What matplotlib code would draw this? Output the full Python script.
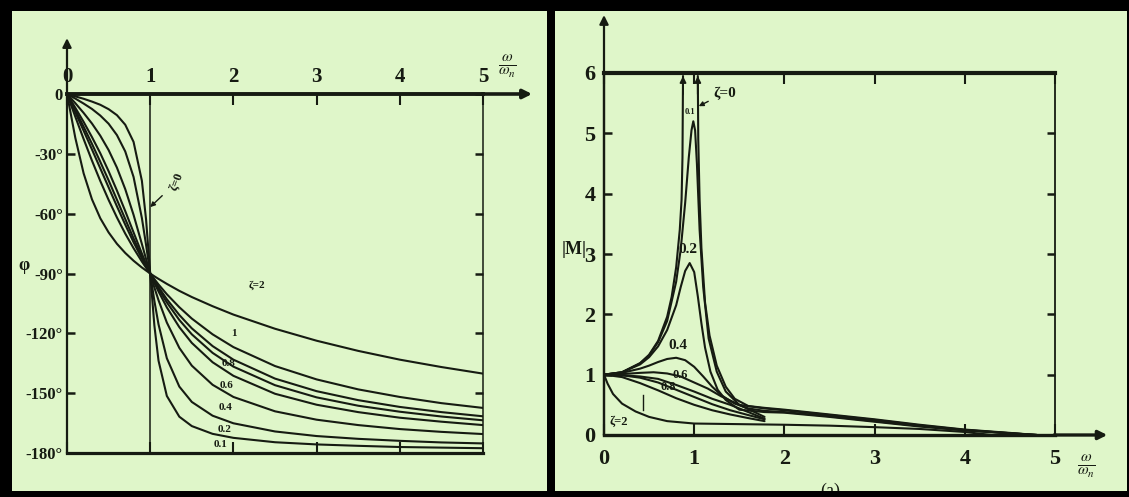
import matplotlib
matplotlib.use('Agg')
import matplotlib.pyplot as plt

plt.rcParams['mathtext.fontset'] = 'stix'

W, H = 1129, 497
INK = '#161b12'
BG = '#dff6c9'
FONT = ['Liberation Serif', 'DejaVu Serif']

# ---------------- left panel: phase (degrees) vs omega/omega_n ----------------
phase_u = [0, 0.1, 0.2, 0.3, 0.4, 0.5, 0.6, 0.7, 0.8, 0.9, 0.95, 1.0, 1.05, 1.1,
           1.2, 1.35, 1.5, 1.75, 2.0, 2.5, 3.0, 3.5, 4.0, 4.5, 5.0]
phase_z01 = [0, -1.2, -2.4, -3.8, -5.4, -7.6, -10.6, -15.4, -24.0, -43.5, -62.8, -90, -116.0,
             -133.7, -151.4, -161.8, -166.5, -170.4, -172.4, -174.6, -175.7, -176.4, -177.0, -177.3, -177.6]
phase_z02 = [0, -2.3, -4.8, -7.5, -10.8, -14.9, -20.6, -28.8, -41.6, -62.2, -75.6, -90, -103.7,
             -115.5, -132.5, -146.7, -154.4, -161.3, -165.1, -169.2, -171.5, -172.9, -173.9, -174.7, -175.2]
phase_z04 = [0, -4.6, -9.5, -14.8, -20.9, -28.1, -36.9, -47.7, -60.6, -75.2, -82.7, -90, -97.0,
             -103.4, -114.6, -127.3, -136.2, -145.8, -151.9, -159.1, -163.3, -166.0, -168.0, -169.4, -170.5]
phase_z06 = [0, -6.9, -14.0, -21.6, -29.7, -38.7, -48.4, -58.7, -69.4, -80.0, -85.1, -90, -94.7,
             -99.0, -107.0, -116.9, -124.8, -134.5, -141.3, -150.3, -155.8, -159.5, -162.3, -164.3, -166.0]
phase_z07 = [0, -8.1, -16.4, -25.0, -34.0, -43.3, -53.0, -62.7, -72.4, -81.5, -85.9, -90, -94.0,
             -97.7, -104.5, -113.3, -120.5, -129.8, -136.7, -146.0, -152.1, -156.3, -159.3, -161.7, -163.6]
phase_z08 = [0, -9.2, -18.4, -27.8, -37.3, -46.8, -56.3, -65.5, -74.3, -82.5, -86.3, -90, -93.5,
             -96.8, -102.9, -110.8, -117.5, -126.4, -133.2, -142.7, -149.0, -153.5, -156.9, -159.5, -161.6]
phase_z1 = [0, -11.4, -22.6, -33.4, -43.6, -53.1, -61.9, -70.0, -77.3, -84.0, -87.1, -90, -92.8,
            -95.5, -100.4, -106.9, -112.6, -120.5, -126.9, -136.4, -143.1, -148.1, -151.9, -155.0, -157.4]
phase_z2 = [0, -22.0, -39.8, -52.8, -62.3, -69.4, -75.1, -79.7, -83.6, -87.0, -88.5, -90, -91.4,
            -92.7, -95.2, -98.7, -101.8, -106.4, -110.6, -117.7, -123.7, -128.8, -133.2, -136.9, -140.2]
phase_z0_u = [0, 1, 1, 5]
phase_z0 = [0, 0, -180, -180]

phase_xticks = [0, 1, 2, 3, 4, 5]
phase_xticklabels = ['0', '1', '2', '3', '4', '5']
phase_yticks = [0, -30, -60, -90, -120, -150, -180]
phase_yticklabels = ['0', '-30°', '-60°', '-90°', '-120°', '-150°', '-180°']

phase_curve_labels = ['ζ=2', '1', '0.8', '0.6', '0.4', '0.2', '0.1']
phase_label_u = [2.28, 2.0, 1.94, 1.92, 1.90, 1.89, 1.84]
phase_label_v = [-96, -120, -135, -146, -157, -168, -175.5]

# ---------------- right panel: |M| vs omega/omega_n ----------------
mag_z0_left_u = [0.0, 0.2, 0.4, 0.5, 0.6, 0.7, 0.75, 0.8, 0.84, 0.86, 0.87, 0.876]
mag_z0_left = [1.0, 1.04, 1.19, 1.33, 1.56, 1.96, 2.29, 2.78, 3.4, 3.9, 4.6, 5.95]
mag_z0_right_u = [1.04, 1.045, 1.06, 1.08, 1.12, 1.17, 1.25, 1.35, 1.45, 1.6, 1.78,
                  2.0, 2.5, 3.0, 3.5, 4.0, 4.5, 4.8]
mag_z0_right = [5.95, 4.9, 3.9, 3.1, 2.2, 1.65, 1.15, 0.8, 0.6, 0.48, 0.45,
                0.42, 0.34, 0.26, 0.17, 0.09, 0.035, 0.0]
mag_z01_u = [0, 0.2, 0.4, 0.5, 0.6, 0.7, 0.8, 0.85, 0.9, 0.94, 0.97, 0.99, 1.01, 1.03, 1.06,
             1.1, 1.16, 1.25, 1.35, 1.5, 1.78, 2.0, 2.5, 3.0, 3.5, 4.0, 4.5, 4.8]
mag_z01 = [1, 1.04, 1.19, 1.32, 1.54, 1.89, 2.54, 3.07, 3.85, 4.6, 5.05, 5.2, 5.05, 4.5, 3.4,
           2.45, 1.6, 1.05, 0.72, 0.5, 0.44, 0.41, 0.33, 0.25, 0.16, 0.085, 0.03, 0.0]
mag_z02_u = [0, 0.2, 0.4, 0.5, 0.6, 0.7, 0.8, 0.85, 0.9, 0.95, 1.0, 1.04, 1.08, 1.12, 1.18,
             1.26, 1.35, 1.5, 1.78, 2.0, 2.5, 3.0, 3.5, 4.0, 4.5, 4.8]
mag_z02 = [1, 1.04, 1.17, 1.29, 1.47, 1.74, 2.15, 2.45, 2.72, 2.85, 2.7, 2.3, 1.85, 1.45, 1.05,
           0.75, 0.58, 0.42, 0.38, 0.37, 0.3, 0.22, 0.14, 0.075, 0.025, 0.0]
mag_z04_u = [0, 0.2, 0.4, 0.5, 0.6, 0.7, 0.8, 0.9, 1.0, 1.1, 1.2, 1.3, 1.45, 1.6, 1.78,
             2.0, 2.5, 3.0, 3.5, 4.0, 4.5, 4.8]
mag_z04 = [1, 1.03, 1.1, 1.15, 1.21, 1.26, 1.28, 1.24, 1.13, 0.97, 0.8, 0.66, 0.52, 0.44, 0.40,
           0.38, 0.31, 0.23, 0.15, 0.08, 0.03, 0.0]
mag_z06_u = [0, 0.2, 0.4, 0.55, 0.7, 0.85, 1.0, 1.15, 1.3, 1.5, 1.78]
mag_z06 = [1, 1.01, 1.03, 1.04, 1.02, 0.97, 0.87, 0.77, 0.64, 0.5, 0.3]
mag_z07_u = [0, 0.2, 0.4, 0.6, 0.8, 1.0, 1.2, 1.4, 1.6, 1.78]
mag_z07 = [1, 0.99, 0.97, 0.93, 0.83, 0.72, 0.6, 0.5, 0.38, 0.27]
mag_z08_u = [0, 0.2, 0.4, 0.6, 0.8, 1.0, 1.2, 1.4, 1.6, 1.78]
mag_z08 = [1, 0.99, 0.95, 0.87, 0.75, 0.63, 0.51, 0.41, 0.33, 0.26]
mag_z1_u = [0, 0.2, 0.4, 0.6, 0.8, 1.0, 1.2, 1.4, 1.6, 1.78]
mag_z1 = [1, 0.96, 0.86, 0.74, 0.61, 0.5, 0.41, 0.34, 0.28, 0.23]
mag_z2_u = [0, 0.04, 0.1, 0.2, 0.35, 0.5, 0.7, 1.0, 1.5, 2.0, 2.5, 3.0, 3.5, 4.0, 4.3]
mag_z2 = [1, 0.85, 0.68, 0.52, 0.39, 0.3, 0.23, 0.19, 0.18, 0.17, 0.155, 0.13, 0.1, 0.05, 0.0]

mag_xticks = [0, 1, 2, 3, 4, 5]
mag_xticklabels = ['0', '1', '2', '3', '4', '5']
mag_yticks = [0, 1, 2, 3, 4, 5, 6]
mag_yticklabels = ['0', '1', '2', '3', '4', '5', '6']

mag_curve_labels = ['0.1', '0.2', '0.4', '0.6', '0.8', 'ζ=2']
mag_label_u = [0.95, 0.93, 0.82, 0.84, 0.71, 0.16]
mag_label_v = [5.35, 3.07, 1.49, 0.99, 0.80, 0.22]
mag_label_size = [6, 11, 11, 9, 9, 9]
mag_leader_u = [0.43, 0.43]
mag_leader_v = [0.42, 0.67]


def fbox(x0, y0, x1, y1):
    return [x0 / W, 1 - y1 / H, (x1 - x0) / W, (y1 - y0) / H]


fig = plt.figure(figsize=(W / 100, H / 100), dpi=100, facecolor='black')

bgs = []
for b in [(12, 11, 547, 491), (555, 11, 1127, 491)]:
    bg = fig.add_axes(fbox(*b), zorder=0)
    bg.set_facecolor(BG)
    bg.set_xticks([])
    bg.set_yticks([])
    bg.set_xlim(0, 1)
    bg.set_ylim(0, 1)
    for s in bg.spines.values():
        s.set_visible(False)
    bgs.append(bg)

arrow_kw = dict(arrowstyle='-|>', color=INK, lw=1.6, mutation_scale=13, shrinkA=0, shrinkB=0)

# ---------------- left axes ----------------
axL = fig.add_axes(fbox(67, 94, 483, 453), zorder=2)
axL.set_facecolor('none')
axL.set_xlim(0, 5)
axL.set_ylim(-180, 0)
for name, lw in [('top', 2.8), ('left', 1.6), ('bottom', 2.3), ('right', 1.1)]:
    axL.spines[name].set_linewidth(lw)
    axL.spines[name].set_color(INK)
axL.set_xticks(phase_xticks)
axL.set_xticklabels(phase_xticklabels)
axL.set_yticks(phase_yticks)
axL.set_yticklabels(phase_yticklabels)
axL.tick_params(axis='x', top=True, bottom=True, labeltop=True, labelbottom=False,
                direction='in', length=8, width=1.5, color=INK, labelcolor=INK,
                labelsize=15, pad=5)
axL.tick_params(axis='y', left=True, right=True, direction='in', length=6, width=1.8,
                color=INK, labelcolor=INK, labelsize=12, pad=3)
for lab in axL.get_xticklabels() + axL.get_yticklabels():
    lab.set_family(FONT)
    lab.set_fontweight('bold')

for vals in [phase_z01, phase_z02, phase_z04, phase_z06, phase_z07, phase_z08, phase_z1, phase_z2]:
    axL.plot(phase_u, vals, color=INK, lw=1.5, solid_capstyle='round')
axL.plot(phase_z0_u, phase_z0, color=INK, lw=1.1)

axL.annotate('', xy=(0, 28), xytext=(0, -0.5), arrowprops=arrow_kw, annotation_clip=False)
axL.annotate('', xy=(5.59, 0), xytext=(4.99, 0), arrowprops=dict(arrow_kw, lw=2.6),
             annotation_clip=False)
axL.text(5.29, 14, r'$\frac{\omega}{\omega_n}$', fontsize=16, color=INK,
         ha='center', va='center', clip_on=False)
axL.text(-0.52, -86, 'φ', fontsize=13, color=INK, ha='center', va='center',
         family=FONT, fontweight='bold', clip_on=False)
for t, u, v in zip(phase_curve_labels, phase_label_u, phase_label_v):
    axL.text(u, v, t, fontsize=8, color=INK, ha='center', va='center', family=FONT,
             fontweight='bold')
axL.annotate('ζ=0', xy=(1.0, -56.7), xytext=(1.32, -44), fontsize=9, color=INK,
             family=FONT, fontweight='bold', ha='center', va='center', rotation=70,
             arrowprops=dict(arrowstyle='-|>', color=INK, lw=1.0, mutation_scale=7,
                             shrinkA=3, shrinkB=0))

# ---------------- right axes ----------------
axR = fig.add_axes(fbox(604, 73, 1055, 435), zorder=2)
axR.set_facecolor('none')
axR.set_xlim(0, 5)
axR.set_ylim(0, 6)
for name, lw in [('top', 3.0), ('left', 1.6), ('bottom', 2.4), ('right', 1.3)]:
    axR.spines[name].set_linewidth(lw)
    axR.spines[name].set_color(INK)
axR.set_xticks(mag_xticks)
axR.set_xticklabels(mag_xticklabels)
axR.set_yticks(mag_yticks)
axR.set_yticklabels(mag_yticklabels)
axR.tick_params(axis='x', top=True, bottom=True, labeltop=False, labelbottom=True,
                direction='in', length=8, width=1.5, color=INK, labelcolor=INK,
                labelsize=16, pad=10)
axR.tick_params(axis='y', left=True, right=True, direction='in', length=6, width=1.8,
                color=INK, labelcolor=INK, labelsize=16, pad=6)
for lab in axR.get_xticklabels() + axR.get_yticklabels():
    lab.set_family(FONT)
    lab.set_fontweight('bold')

curves = [(mag_z0_left_u, mag_z0_left), (mag_z0_right_u, mag_z0_right),
          (mag_z01_u, mag_z01), (mag_z02_u, mag_z02), (mag_z04_u, mag_z04),
          (mag_z06_u, mag_z06), (mag_z07_u, mag_z07), (mag_z08_u, mag_z08),
          (mag_z1_u, mag_z1), (mag_z2_u, mag_z2)]
for u, m in curves:
    axR.plot(u, m, color=INK, lw=1.5, solid_capstyle='round')

# arrow heads on the two zeta=0 branches
for u, m in [(mag_z0_left_u, mag_z0_left), (mag_z0_right_u, mag_z0_right)]:
    tip = (u[-1], m[-1]) if m[-1] > m[0] else (u[0], m[0])
    axR.annotate('', xy=tip, xytext=(tip[0], tip[1] - 0.3),
                 arrowprops=dict(arrowstyle='-|>', color=INK, lw=1.3, mutation_scale=9,
                                 shrinkA=0, shrinkB=0))

axR.plot(mag_leader_u, mag_leader_v, color=INK, lw=1.0)
for t, u, v, s in zip(mag_curve_labels, mag_label_u, mag_label_v, mag_label_size):
    axR.text(u, v, t, fontsize=s, color=INK, ha='center', va='center', family=FONT,
             fontweight='bold')
axR.annotate('ζ=0', xy=(1.05, 5.45), xytext=(1.34, 5.67), fontsize=11, color=INK,
             family=FONT, fontweight='bold', ha='center', va='center',
             arrowprops=dict(arrowstyle='-|>', color=INK, lw=1.0, mutation_scale=7,
                             shrinkA=2, shrinkB=0))

axR.annotate('', xy=(0, 6.96), xytext=(0, 0), arrowprops=arrow_kw, annotation_clip=False)
axR.annotate('', xy=(5.58, 0), xytext=(4.99, 0), arrowprops=dict(arrow_kw, lw=2.4),
             annotation_clip=False)
axR.text(5.35, -0.53, r'$\frac{\omega}{\omega_n}$', fontsize=16, color=INK,
         ha='center', va='center', clip_on=False)
axR.text(-0.33, 3.08, '|M|', fontsize=13, color=INK, ha='center', va='center',
         family=FONT, fontweight='bold', clip_on=False)

# partially hidden caption at the bottom of the right panel
bgs[1].text((830 - 555) / (1127 - 555), (491 - 483) / (491 - 11), '(a)', fontsize=13,
            color=INK, ha='center', va='top', family=FONT, clip_on=True)

fig.savefig('out.png', dpi=100, facecolor=fig.get_facecolor())
